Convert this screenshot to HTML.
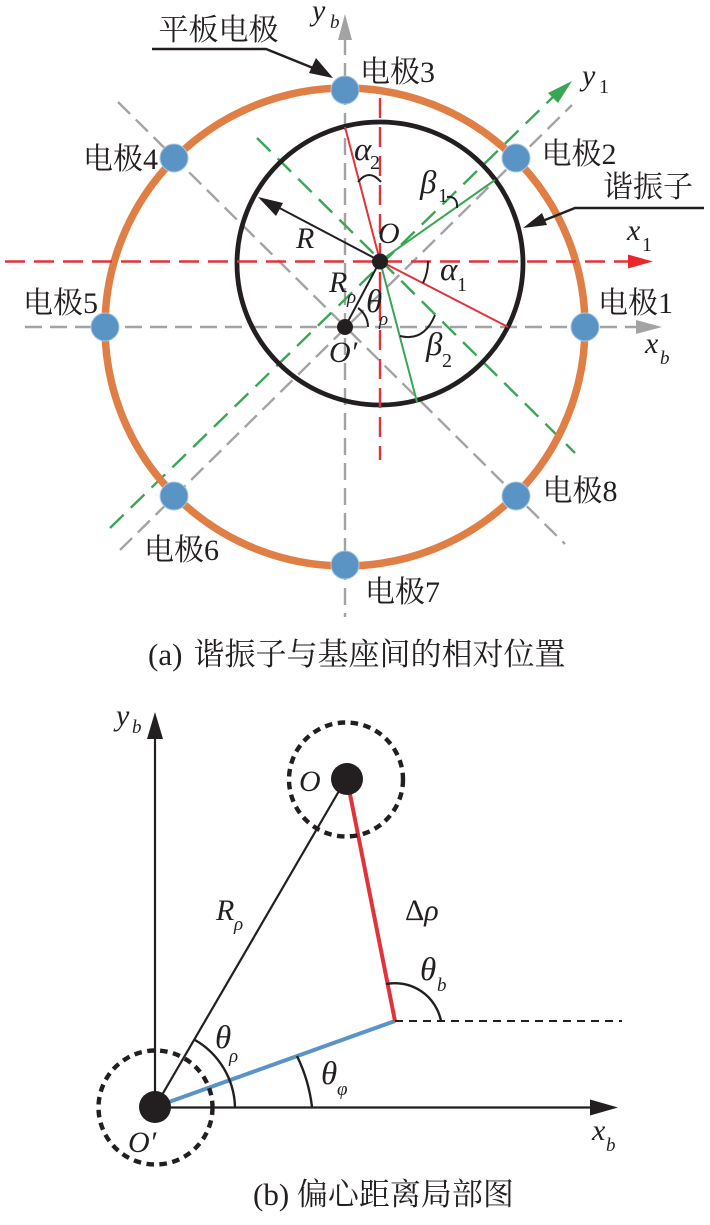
<!DOCTYPE html>
<html><head><meta charset="utf-8"><style>
html,body{margin:0;padding:0;background:#fff}
svg{display:block}
text{font-family:"Liberation Serif","Noto Serif CJK SC",serif;fill:#231f20}
.c{font-size:30px}
.k{font-size:31px}
.i{font-style:italic;font-size:30px}
.g{font-style:italic;font-size:33px}
.s{font-style:italic;font-size:19px}
.n{font-size:20px}
</style></head><body>
<svg width="710" height="1225" viewBox="0 0 710 1225" xmlns="http://www.w3.org/2000/svg">
<g fill="none">
<!-- gray axes -->
<g stroke="#a3a3a3" stroke-width="2.4" stroke-dasharray="17 8">
<line x1="345" y1="38" x2="345" y2="617"/>
<line x1="25" y1="327" x2="640" y2="327"/>
<line x1="118" y1="102" x2="565" y2="544"/>
<line x1="120" y1="550" x2="572" y2="105"/>
</g>
<polygon points="345,14 338,40 352,40" fill="#a3a3a3"/>
<polygon points="662,327 636,320 636,334" fill="#a3a3a3"/>
<!-- green dashed -->
<g stroke="#3aa655" stroke-width="2.4" stroke-dasharray="19 10">
<line x1="110" y1="528" x2="553" y2="97"/>
<line x1="257" y1="138" x2="575" y2="453"/>
</g>
<polygon points="572,81 548,93 558,103" fill="#3aa655"/>
<!-- circles -->
<ellipse cx="345" cy="327" rx="240" ry="239" stroke="#e07f45" stroke-width="7.5"/>
<ellipse cx="380" cy="263.5" rx="143" ry="141.5" stroke="#231f20" stroke-width="4.8"/>
<!-- red dashed -->
<g stroke="#e0333a" stroke-width="2.4" stroke-dasharray="20 9">
<line x1="5" y1="261.5" x2="630" y2="261.5"/>
<line x1="380" y1="98" x2="380" y2="460"/>
</g>
<polygon points="653,261.5 628,254.5 628,268.5" fill="#e8262c"/>
<!-- radial lines -->
<line x1="380" y1="261" x2="508" y2="327" stroke="#e0333a" stroke-width="2"/>
<line x1="380" y1="261" x2="345" y2="127" stroke="#e0333a" stroke-width="2"/>
<line x1="380" y1="261" x2="495" y2="180" stroke="#3aa655" stroke-width="2"/>
<line x1="380" y1="261" x2="417" y2="402" stroke="#3aa655" stroke-width="2"/>
<line x1="380" y1="261" x2="270" y2="203" stroke="#231f20" stroke-width="2"/>
<polygon points="258,197 283,203 276,216" fill="#231f20"/>
<line x1="380" y1="261" x2="345" y2="327" stroke="#231f20" stroke-width="2"/>
<!-- angle arcs -->
<g stroke="#231f20" stroke-width="2">
<path d="M428 261 A 48 48 0 0 1 423 283"/>
<path d="M358 182 Q 369 168 381 182"/>
<path d="M447 197 Q 458 196 457 208"/>
<path d="M400 336 Q 424 342 435 315"/>
<path d="M358 308 A 23 23 0 0 1 368 327"/>
</g>
<!-- electrodes -->
<g fill="#5a94c5" stroke="#a9c8e2" stroke-width="1">
<circle cx="585" cy="327" r="14"/>
<circle cx="516" cy="158" r="14"/>
<circle cx="345" cy="90" r="14"/>
<circle cx="174" cy="158" r="14"/>
<circle cx="105" cy="327" r="14"/>
<circle cx="174" cy="496" r="14"/>
<circle cx="345" cy="565" r="14"/>
<circle cx="516" cy="496" r="14"/>
</g>
<circle cx="380" cy="261.5" r="8" fill="#231f20"/>
<circle cx="345" cy="327" r="8" fill="#231f20"/>
<!-- leaders -->
<polyline points="152,49 266,49 318,70" stroke="#231f20" stroke-width="2.4"/>
<polygon points="333,78 309,73 316,58" fill="#231f20"/>
<polyline points="704,208 575,208 540,222" stroke="#231f20" stroke-width="2.4"/>
<polygon points="523,228 542,213 547,225" fill="#231f20"/>

<!-- part b -->
<line x1="155" y1="1107" x2="155" y2="735" stroke="#231f20" stroke-width="2.2"/>
<polygon points="155,712 147,739 163,739" fill="#231f20"/>
<line x1="155" y1="1107.5" x2="595" y2="1107.5" stroke="#231f20" stroke-width="2.2"/>
<polygon points="618,1107.5 590,1099.5 590,1115.5" fill="#231f20"/>
<line x1="155" y1="1107" x2="346" y2="779" stroke="#231f20" stroke-width="2.2"/>
<line x1="155" y1="1107" x2="395" y2="1021" stroke="#5a94c6" stroke-width="4"/>
<line x1="347" y1="779" x2="395" y2="1021" stroke="#e0333a" stroke-width="4"/>
<line x1="395" y1="1021" x2="622" y2="1021" stroke="#231f20" stroke-width="2" stroke-dasharray="8 6"/>
<g stroke="#231f20" stroke-width="2.4">
<path d="M195 1040 A 80 80 0 0 1 235 1107"/>
<path d="M297 1056 A 158 158 0 0 1 312 1107"/>
<path d="M386 984 A 47 47 0 0 1 441 1021"/>
</g>
<circle cx="155.5" cy="1107.5" r="57" stroke="#231f20" stroke-width="4.4" stroke-dasharray="7.5 5.5"/>
<circle cx="346" cy="779.5" r="57" stroke="#231f20" stroke-width="4.4" stroke-dasharray="7.5 5.5"/>
<circle cx="155" cy="1107" r="16" fill="#231f20"/>
<circle cx="347" cy="779" r="16" fill="#231f20"/>
</g>

<!-- part a text -->
<text class="c" x="158.5" y="40">平板电极</text>
<text class="c" x="360" y="82">电极3</text>
<text class="c" x="541.5" y="164">电极2</text>
<text class="c" x="83" y="169">电极4</text>
<text class="c" x="598" y="313">电极1</text>
<text class="c" x="23" y="313">电极5</text>
<text class="c" x="542.5" y="501">电极8</text>
<text class="c" x="144" y="560">电极6</text>
<text class="c" x="365" y="602">电极7</text>
<text class="c" x="603" y="197">谐振子</text>
<text class="k" y="665"><tspan x="148">(a)</tspan> <tspan x="193.5">谐振子与基座间的相对位置</tspan></text>
<text class="k" x="253" y="1205">(b) 偏心距离局部图</text>

<text class="i" x="312" y="20">y</text><text class="s" x="330" y="28">b</text>
<text class="i" x="582" y="85">y</text><text class="n" x="599" y="93">1</text>
<text class="i" x="627" y="240">x</text><text class="n" x="642" y="251">1</text>
<text class="i" x="645" y="353">x</text><text class="s" x="660" y="364">b</text>
<text class="i" x="378" y="243">O</text>
<text class="i" x="296" y="248">R</text>
<text class="i" x="329" y="292">R</text><text class="s" x="347" y="303">ρ</text>
<text class="g" x="366" y="312">θ</text><text class="s" x="379" y="325">ρ</text>
<text class="i" x="329" y="362">O′</text>
<text class="g" x="354" y="160">α</text><text class="n" x="370" y="169">2</text>
<text class="g" x="420" y="193">β</text><text class="n" x="438" y="202">1</text>
<text class="g" x="440" y="280">α</text><text class="n" x="457" y="291">1</text>
<text class="g" x="426" y="355">β</text><text class="n" x="442" y="367">2</text>

<!-- part b text -->
<text class="i" x="116" y="725">y</text><text class="s" x="132" y="733">b</text>
<text class="i" x="592" y="1140">x</text><text class="s" x="606" y="1151">b</text>
<text class="i" x="299" y="791">O</text>
<text class="i" x="216" y="920">R</text><text class="s" x="234" y="930">ρ</text>
<text x="405" y="920" style="font-size:30px">Δ<tspan font-style="italic">ρ</tspan></text>
<text class="g" x="420" y="980">θ</text><text class="s" x="437" y="991">b</text>
<text class="g" x="215" y="1048">θ</text><text class="s" x="229" y="1062">ρ</text>
<text class="g" x="321" y="1084">θ</text><text class="s" x="337" y="1095">φ</text>
<text class="i" x="128" y="1152">O′</text>
</svg>
</body></html>
